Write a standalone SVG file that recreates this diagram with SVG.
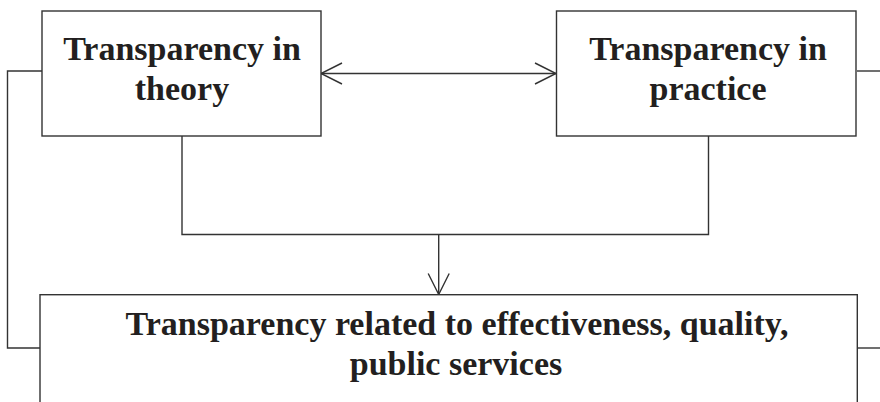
<svg xmlns="http://www.w3.org/2000/svg" width="880" height="402" viewBox="0 0 880 402">
<defs>
<style>
.box{fill:#fff;stroke:#333;stroke-width:1.4}
.ln{fill:none;stroke:#333;stroke-width:1.4}
.t{font-family:"Liberation Serif","Times New Roman",serif;font-weight:bold;font-size:34px;fill:#231f20;text-anchor:middle}
</style>
<marker id="arr" markerUnits="userSpaceOnUse" markerWidth="30" markerHeight="30" viewBox="-25 -15 30 30" refX="0" refY="0" orient="auto-start-reverse">
<path d="M-21,-10.5 L0,0 L-21,10.5" fill="none" stroke="#333" stroke-width="1.4"/>
</marker>
</defs>
<rect width="880" height="402" fill="#fff"/>
<g id="connectors">
<polyline class="ln" points="42,71 7.5,71 7.5,348 40,348"/>
<line class="ln" x1="857" y1="71" x2="880" y2="71"/>
<line class="ln" x1="857" y1="348" x2="880" y2="348"/>
<polyline class="ln" points="182,136 182,234.5 708.5,234.5 708.5,136"/>
<line class="ln" x1="321" y1="73.5" x2="556" y2="73.5" marker-start="url(#arr)" marker-end="url(#arr)"/>
<line class="ln" x1="438.7" y1="234.5" x2="438.7" y2="294.5" marker-end="url(#arr)"/>
</g>
<g id="node-theory">
<rect class="box" x="42" y="11" width="279" height="125"/>
<text class="t" x="182" y="60">Transparency in</text>
<text class="t" x="182" y="100">theory</text>
</g>
<g id="node-practice">
<rect class="box" x="556.5" y="11" width="299.5" height="125"/>
<text class="t" x="708" y="60">Transparency in</text>
<text class="t" x="708" y="100">practice</text>
</g>
<g id="node-effectiveness">
<rect class="box" x="40" y="294.7" width="817.3" height="120"/>
<text class="t" x="457" y="335">Transparency related to effectiveness, quality,</text>
<text class="t" x="456" y="375">public services</text>
</g>
</svg>
